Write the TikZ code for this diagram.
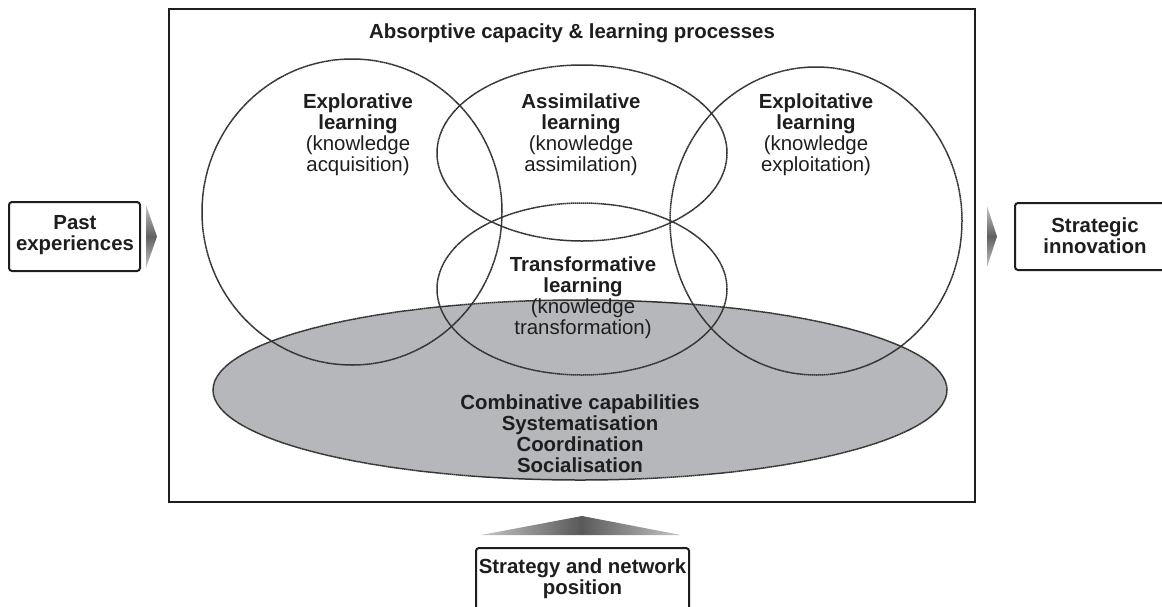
\documentclass[tikz,border=0pt]{standalone}
\usepackage{fontspec}
\setmainfont{Liberation Sans}
\usetikzlibrary{shapes.geometric}
\definecolor{ellfill}{RGB}{182,183,187}
\definecolor{ink}{RGB}{30,30,30}
\definecolor{ringcol}{RGB}{50,50,50}
\tikzset{
  lbl/.style={align=center, inner sep=0pt, text=ink, font=\fontsize{20.4}{21}\selectfont},
  sidebox/.style={draw=ink, line width=2pt, rounded corners=3pt, fill=white},
  ring/.style={draw=ringcol, line width=1.5pt, dash pattern=on 1.6pt off 0.4pt},
  wedge/.style={draw=none}
}
\begin{document}
\begin{tikzpicture}[x=1pt,y=-1pt]
\useasboundingbox (0,0) rectangle (1162,606);
% main frame
\node[draw=ink, line width=2pt, minimum width=806pt, minimum height=493pt, inner sep=0pt] (main) at (572,255.5) {};
% gray ellipse
\path[fill=ellfill, draw=ringcol, line width=1.5pt, dash pattern=on 1.6pt off 0.4pt] (580,390) ellipse [x radius=367, y radius=90];
\coordinate (comb) at (580,390);
% rings
\draw[ring] (352,212) ellipse [x radius=150, y radius=153];
\draw[ring] (582,153) ellipse [x radius=145, y radius=88];
\draw[ring] (582,289) ellipse [x radius=145, y radius=86];
\draw[ring] (816,221) ellipse [x radius=146, y radius=154];
% title
\node[lbl, font=\fontsize{20.4}{21}\selectfont\bfseries] (title) at (572,33) {Absorptive capacity \& learning processes};
% learning labels
\node[lbl] (explo) at (358,135) {\textbf{Explorative}\\\textbf{learning}\\(knowledge\\acquisition)};
\node[lbl] (assim) at (581,135) {\textbf{Assimilative}\\\textbf{learning}\\(knowledge\\assimilation)};
\node[lbl] (exploit) at (816,135) {\textbf{Exploitative}\\\textbf{learning}\\(knowledge\\exploitation)};
\node[lbl] (transf) at (583,298) {\textbf{Transformative}\\\textbf{learning}\\(knowledge\\transformation)};
\node[lbl, font=\fontsize{20.4}{21}\selectfont\bfseries] (combt) at (580,434) {Combinative capabilities\\Systematisation\\Coordination\\Socialisation};
% side boxes
\node[sidebox, minimum width=131pt, minimum height=69pt, inner sep=0pt] (past) at (74.5,236.5) {};
\node[lbl, font=\fontsize{20.4}{21}\selectfont\bfseries] (pastt) at (75,235) {Past\\experiences};
\node[sidebox, minimum width=165pt, minimum height=67pt, inner sep=0pt] (innov) at (1097.5,236.5) {};
\node[lbl, font=\fontsize{20.4}{21}\selectfont\bfseries] (innovt) at (1095,236) {Strategic\\innovation};
\node[sidebox, minimum width=213pt, minimum height=90pt, inner sep=0pt, anchor=north] (strat) at (582.5,547) {};
\node[lbl, font=\fontsize{20.4}{21}\selectfont\bfseries] (stratt) at (582.5,579) {Strategy and network\\position};
% arrow wedges
\path[wedge, top color=gray!45, bottom color=gray!45, middle color=gray!75!black]
  (146,205) -- (157,236.5) -- (146,268) -- cycle;
\path[wedge, top color=gray!45, bottom color=gray!45, middle color=gray!75!black]
  (987,206) -- (997,236.5) -- (987,267) -- cycle;
\path[wedge, left color=gray!45, right color=gray!45, middle color=gray!70!black]
  (481,535) -- (582,516) -- (681,535) -- cycle;
\end{tikzpicture}
\end{document}
